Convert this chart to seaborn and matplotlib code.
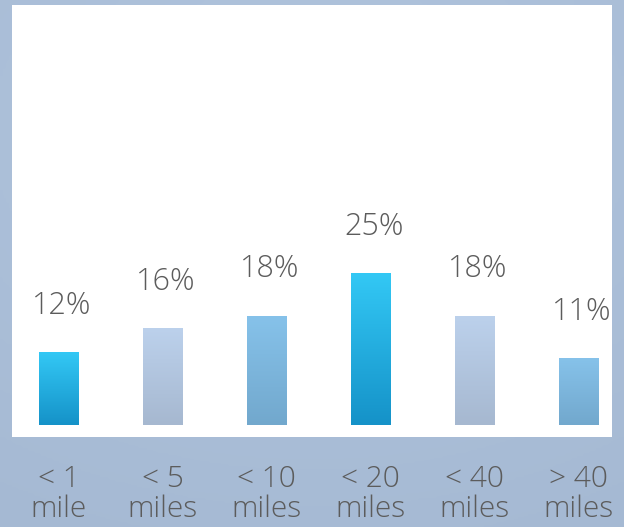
import numpy as np
import pandas as pd
import matplotlib
matplotlib.use("Agg")
import matplotlib.pyplot as plt
import seaborn as sns
from matplotlib.colors import LinearSegmentedColormap

categories = ["< 1\nmile", "< 5\nmiles", "< 10\nmiles", "< 20\nmiles", "< 40\nmiles", "> 40\nmiles"]
values = [12, 16, 18, 25, 18, 11]
value_labels = ["12%", "16%", "18%", "25%", "18%", "11%"]

# gradient (top, bottom) colours per bar
grad_top = ["#33c8f5", "#bcd1ec", "#86c2ea", "#33c8f5", "#bcd1ec", "#86c2ea"]
grad_bot = ["#1592c8", "#a6b8d0", "#72a8cd", "#1592c8", "#a6b8d0", "#72a8cd"]

sns.set_theme(style="white")
plt.rcParams['font.family'] = ['Open Sans', 'DejaVu Sans']

W, H = 624, 527
fig = plt.figure(figsize=(W / 100, H / 100), dpi=100)

# background gradient
bg = fig.add_axes([0, 0, 1, 1], zorder=-10)
yy, xx = np.mgrid[0:1:200j, 0:1:200j]
d = np.sqrt(((xx - 0.5) * 1.0) ** 2 + ((yy - 0.25) * 1.2) ** 2)
bgcmap = LinearSegmentedColormap.from_list("bg", ["#b1c5de", "#a5b9d3"])
bg.imshow(d, cmap=bgcmap, aspect="auto", extent=[0, 1, 0, 1], origin="upper")
bg.set_axis_off()

ax = fig.add_axes([12 / W, (H - 437) / H, 600 / W, 432 / H])
df = pd.DataFrame({"cat": categories, "val": values})
sns.barplot(data=df, x="cat", y="val", ax=ax, width=0.375, color="#1592c8", saturation=1)

ax.set_facecolor("white")

for i, p in enumerate(ax.patches):
    x0, y0 = p.get_x(), p.get_y()
    w, h = p.get_width(), p.get_height()
    cmap = LinearSegmentedColormap.from_list(f"g{i}", [grad_bot[i], grad_top[i]])
    grad = np.linspace(0, 1, 256).reshape(-1, 1)
    ax.imshow(grad, cmap=cmap, aspect="auto", origin="lower",
              extent=[x0, x0 + w, y0, y0 + h], zorder=2)
    p.set_visible(False)
    ax.text(x0 + w / 2 + 0.03, y0 + h + 7.7, value_labels[i], ha="center", va="center",
            fontsize=22, color="#5c5c5c", fontweight="light")

ax.set_xlim(-0.447, 5.322)
ax.set_ylim(-1.98, 69.4)
ax.set_xlabel("")
ax.set_ylabel("")
ax.set_yticks([])
for s in ax.spines.values():
    s.set_visible(False)
ax.tick_params(axis="x", length=0, pad=20)
for lbl in ax.get_xticklabels():
    lbl.set_fontsize(21.5)
    lbl.set_color("#5c5c5c")
    lbl.set_fontweight("light")
    lbl.set_linespacing(1.03)

fig.savefig("out.png", dpi=100)
